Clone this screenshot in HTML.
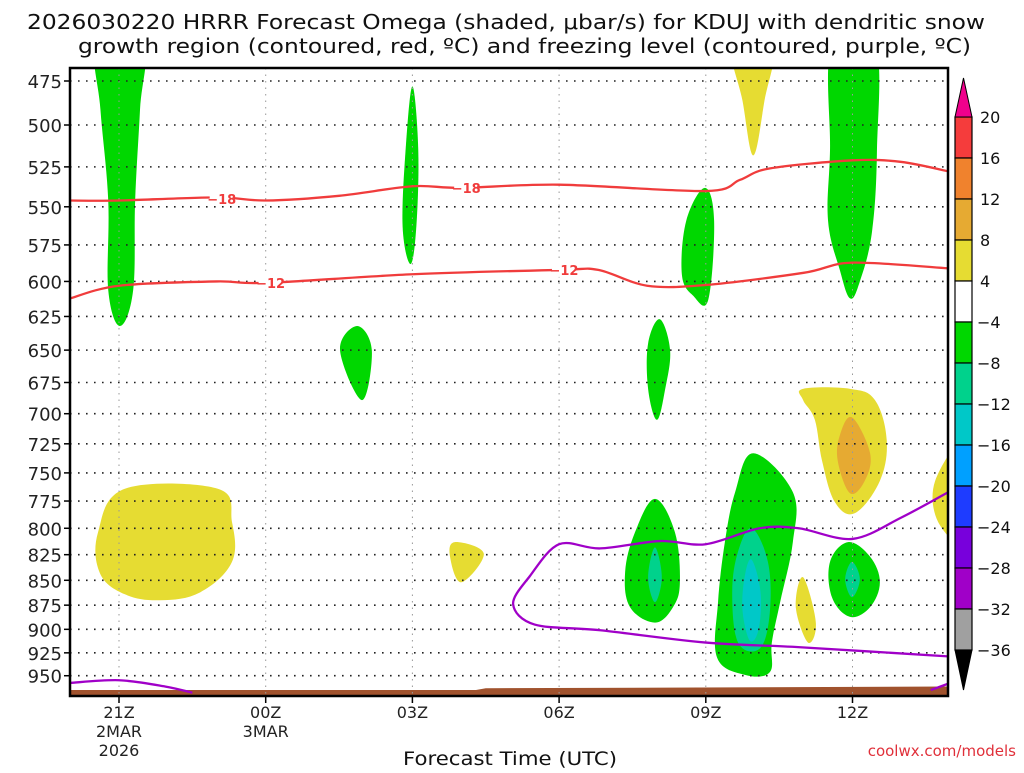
<!DOCTYPE html>
<html><head><meta charset="utf-8"><style>
body{margin:0;background:#fff;}
svg text{font-family:"DejaVu Sans","Liberation Sans",sans-serif;}
</style></head><body>
<svg id="chart" width="1024" height="768" xmlns="http://www.w3.org/2000/svg">
<rect width="1024" height="768" fill="#fff"/>
<g id="title">
<text x="27" y="29" font-size="20" textLength="958" lengthAdjust="spacingAndGlyphs" fill="#111">2026030220 HRRR Forecast Omega (shaded, μbar/s) for KDUJ with dendritic snow</text>
<text x="78" y="53" font-size="20" textLength="893" lengthAdjust="spacingAndGlyphs" fill="#111">growth region (contoured, red, ºC) and freezing level (contoured, purple, ºC)</text>
</g>
<defs><clipPath id="pc"><rect x="70" y="68" width="878" height="628"/></clipPath></defs>
<g id="shades" clip-path="url(#pc)"></g>
<g id="grid"></g>
<g id="lines" clip-path="url(#pc)"></g>
<g id="axes"></g>
<g id="cbar"></g>
<text x="403" y="765" font-size="19" textLength="214" lengthAdjust="spacingAndGlyphs" fill="#111">Forecast Time (UTC)</text>
<text x="1016" y="756" font-size="15" text-anchor="end" fill="#e0303a">coolwx.com/models</text>
</svg>
<script>
const pLevels=[475,500,525,550,575,600,625,650,675,700,725,750,775,800,825,850,875,900,925,950];
const xTickHours=[0,3,6,9,12,15];
const xTickLabels=[["21Z","2MAR","2026"],["00Z","3MAR"],["03Z"],["06Z"],["09Z"],["12Z"]];
const cbarLevels=[20,16,12,8,4,-4,-8,-12,-16,-20,-24,-28,-32,-36];
const cbarColors=["#f53c3c","#f0822d","#e6aa32","#e6dc32","#ffffff","#00d700","#00d28c","#00c8c8","#00a0ff","#1e3cff","#7800dc","#a000c8","#a0a0a0"];
const greenLeft=[[-0.45,455],[0.49,455],[0.43,491],[0.33,546],[0.29,606],[0.02,632],[-0.22,606],[-0.22,546],[-0.38,491]];
const green03=[[6.0,478],[6.12,515],[6.08,563],[5.96,588],[5.8,563],[5.86,515]];
const greenDiamond=[[4.87,632],[5.17,650],[4.97,689],[4.52,650]];
const green08a=[[11.06,627],[11.27,650],[11.17,680],[11.0,705],[10.82,680],[10.82,645]];
const green09=[[11.98,538],[12.17,559],[12.05,613],[11.74,610],[11.51,595],[11.6,559]];
const green12=[[14.58,455],[15.46,455],[15.5,515],[15.4,566],[15.15,600],[14.95,612],[14.74,592],[14.5,559],[14.54,515]];
const yellowTop=[[12.54,455],[13.37,455],[13.2,486],[12.97,518],[12.75,486]];
const yellowLeft=[[0.12,764],[2.02,764],[2.31,794],[2.31,832],[1.66,862],[0.84,870],[0.12,864],[-0.39,843],[-0.43,804]];
const yellow04=[[6.87,813],[7.46,824],[7.0,852],[6.77,827]];
const yellowRight=[[13.99,680],[14.95,680],[15.46,689],[15.7,722],[15.56,757],[15.05,786],[14.64,776],[14.38,740],[14.23,705],[13.99,689]];
const orangeRight=[[14.99,703],[15.36,733],[15.25,757],[14.95,768],[14.7,740],[14.74,718]];
const yellowEdge=[[17.3,725],[17.3,810],[16.75,794],[16.69,757]];
const yellow11=[[13.99,847],[14.25,893],[14.09,914],[13.84,877]];
const green08b=[[10.96,773],[11.37,804],[11.47,852],[11.33,877],[10.96,893],[10.45,877],[10.35,842],[10.55,804]];
const teal08b=[[10.96,818],[11.1,847],[10.96,872],[10.82,847]];
const green10=[[12.97,733],[13.78,767],[13.78,813],[13.52,872],[13.35,914],[13.31,946],[12.8,949],[12.23,930],[12.25,872],[12.39,813],[12.6,767]];
const teal10=[[12.94,800],[13.27,832],[13.31,882],[13.11,920],[12.66,914],[12.54,862],[12.66,822]];
const cyan10=[[12.94,830],[13.12,862],[13.08,900],[12.9,912],[12.75,880],[12.8,845]];
const green12b=[[14.91,813],[15.36,827],[15.56,852],[15.36,877],[14.95,887],[14.58,867],[14.54,832]];
const teal12b=[[14.99,832],[15.15,849],[14.99,867],[14.85,849]];
const m18Hours=[-1,0,2,3,4.5,6,7,9,12,12.7,13.3,15,16,17];
const m18P=[546,546,544,546,543,537,538,536,540,533,526,521,522,528];
const m12Hours=[-1,0,2,3,6,9,9.8,10.8,12,14,15,17];
const m12P=[612,603,600,601,595,592,592,603,602.5,594,587,591];
const fzLeftH=[-1,0,0.94,1.5];
const fzLeftP=[958,955,962,969];
const fzMainH=[17,16,15,13.9,13.1,12,11.06,9.84,9,8.4,8.06,8.5,9.84,12,13.93,17];
const fzMainP=[766,790,810,800,800,815,812,819,815,846,874,895,901,914,919,929];
const fzRightH=[16.6,17];
const fzRightP=[966,958];
const groundH=[-1,7.3,7.5,17];
const groundP=[966,966,964,962];

const NS="http://www.w3.org/2000/svg";
const X=h=>119+48.9*h;
const Y=p=>81+858*Math.log(p/475);
function mk(tag,attrs,parent){const e=document.createElementNS(NS,tag);for(const k in attrs)e.setAttribute(k,attrs[k]);parent.appendChild(e);return e;}
function smoothClosed(pts){const n=pts.length;let d=`M${pts[0][0]},${pts[0][1]}`;
for(let i=0;i<n;i++){const p0=pts[(i-1+n)%n],p1=pts[i],p2=pts[(i+1)%n],p3=pts[(i+2)%n];const t=0.18;
d+=` C${p1[0]+(p2[0]-p0[0])*t},${p1[1]+(p2[1]-p0[1])*t} ${p2[0]-(p3[0]-p1[0])*t},${p2[1]-(p3[1]-p1[1])*t} ${p2[0]},${p2[1]}`;}
return d+'Z';}
function smoothOpen(pts){let d=`M${pts[0][0]},${pts[0][1]}`;const n=pts.length;
for(let i=0;i<n-1;i++){const p0=pts[Math.max(i-1,0)],p1=pts[i],p2=pts[i+1],p3=pts[Math.min(i+2,n-1)];const t=0.16;
d+=` C${p1[0]+(p2[0]-p0[0])*t},${p1[1]+(p2[1]-p0[1])*t} ${p2[0]-(p3[0]-p1[0])*t},${p2[1]-(p3[1]-p1[1])*t} ${p2[0]},${p2[1]}`;}
return d;}
const shades=document.getElementById('shades');
const regions=[["#00d700",greenLeft,"omega-green-left"],["#00d700",green03,"omega-green-03z"],["#00d700",greenDiamond,"omega-green-diamond"],["#00d700",green08a,"omega-green-08z-upper"],["#00d700",green09,"omega-green-09z"],["#00d700",green12,"omega-green-12z"],["#e6dc32",yellowTop,"omega-yellow-top"],["#e6dc32",yellowLeft,"omega-yellow-left"],["#e6dc32",yellow04,"omega-yellow-04z"],["#e6dc32",yellowRight,"omega-yellow-right"],["#e6aa32",orangeRight,"omega-orange-right"],["#e6dc32",yellowEdge,"omega-yellow-edge"],["#e6dc32",yellow11,"omega-yellow-11z"],["#00d700",green08b,"omega-green-08z-lower"],["#00d28c",teal08b,"omega-teal-08z"],["#00d700",green10,"omega-green-10z"],["#00d28c",teal10,"omega-teal-10z"],["#00c8c8",cyan10,"omega-cyan-10z"],["#00d700",green12b,"omega-green-12z-lower"],["#00d28c",teal12b,"omega-teal-12z"]];
regions.forEach(r=>{const e=mk('path',{d:smoothClosed(r[1].map(q=>[X(q[0]),Y(q[1])])),fill:r[0]},shades);

});
const gp=groundH.map((h,i)=>X(h)+','+Y(groundP[i])).join(' ')+' '+X(17)+',696 '+X(-1)+',696';
const g=mk('polygon',{points:gp,fill:'#a0522d'},shades);


const grid=document.getElementById('grid');
pLevels.forEach(p=>{mk('line',{x1:70,x2:948,y1:Y(p),y2:Y(p),stroke:'#222','stroke-width':1.6,'stroke-dasharray':'1.6 6.4'},grid);});
xTickHours.forEach(h=>{mk('line',{x1:X(h),x2:X(h),y1:68,y2:696,stroke:'#999','stroke-width':1,'stroke-dasharray':'1.5 5'},grid);});
const lines=document.getElementById('lines');
function line(hs,ps,color,name){const e=mk('path',{d:smoothOpen(hs.map((h,i)=>[X(h),Y(ps[i])])),fill:'none',stroke:color,'stroke-width':2.3,'stroke-linejoin':'round'},lines);

}
line(m18Hours,m18P,'#f03c3c','contour-minus18');
line(m12Hours,m12P,'#f03c3c','contour-minus12');
line(fzLeftH,fzLeftP,'#a000c8','freezing-level-left');
line(fzMainH,fzMainP,'#a000c8','freezing-level-main');
line(fzRightH,fzRightP,'#a000c8','freezing-level-right');
[[2.1,545,"−18"],[7.1,538,"−18"],[3.1,601,"−12"],[9.1,592,"−12"]].forEach(l=>{
mk('rect',{x:X(l[0])-12,y:Y(l[1])-7,width:24,height:14,fill:'#fff'},lines);
const t=mk('text',{x:X(l[0]),y:Y(l[1])+5,'font-size':13,'font-weight':'bold','text-anchor':'middle',fill:'#f03c3c'},lines);t.textContent=l[2];

});
const ax=document.getElementById('axes');
mk('rect',{x:70,y:68,width:878,height:628,fill:'none',stroke:'#000','stroke-width':2.5},ax);
pLevels.forEach(p=>{mk('line',{x1:64,x2:70,y1:Y(p),y2:Y(p),stroke:'#000','stroke-width':1.5},ax);
const t=mk('text',{x:62,y:Y(p)+7,'font-size':18,'text-anchor':'end',fill:'#222'},ax);t.textContent=p;

});
xTickHours.forEach((h,i)=>{mk('line',{x1:X(h),x2:X(h),y1:696,y2:703,stroke:'#000','stroke-width':1.5},ax);
xTickLabels[i].forEach((s,j)=>{const t=mk('text',{x:X(h),y:718+j*19,'font-size':16,'text-anchor':'middle',fill:'#222'},ax);t.textContent=s;

});});
const cb=document.getElementById('cbar');
const cy0=117,seg=(650-117)/13,cx=955,cw=17;
cbarColors.forEach((c,i)=>{mk('rect',{x:cx,y:cy0+i*seg,width:cw,height:seg,fill:c,stroke:'#000','stroke-width':1.2},cb);});
mk('polygon',{points:`${cx},${cy0} ${cx+cw},${cy0} ${cx+cw/2},78`,fill:'#f0008c',stroke:'#000','stroke-width':1},cb);
mk('polygon',{points:`${cx},650 ${cx+cw},650 ${cx+cw/2},690`,fill:'#000',stroke:'#000','stroke-width':1},cb);
cbarLevels.forEach((v,i)=>{const t=mk('text',{x:v<0?977:980,y:cy0+i*seg+6,'font-size':16,fill:'#111'},cb);t.textContent=v<0?'−'+(-v):v;

});
</script>
</body></html>
